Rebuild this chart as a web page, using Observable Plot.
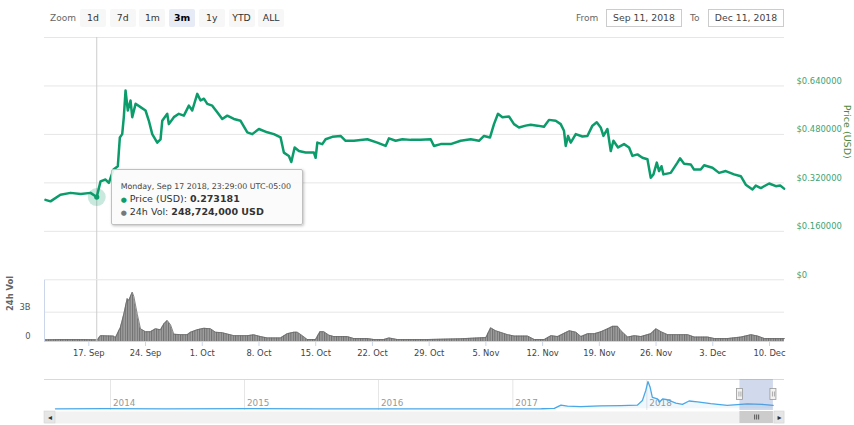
<!DOCTYPE html>
<html>
<head>
<meta charset="utf-8">
<script src="https://cdn.jsdelivr.net/npm/d3@7"></script>
<script src="https://cdn.jsdelivr.net/npm/@observablehq/plot@0.6"></script>
<style>
html,body{margin:0;padding:0;background:#fff;}
#root{position:relative;width:854px;height:425px;overflow:hidden;font-family:"DejaVu Sans",Verdana,sans-serif;}
#root svg{position:absolute;left:0;}
.lbl{position:absolute;font-size:9px;color:#666;line-height:18px;top:9px;}
.btn{position:absolute;top:9px;height:18px;width:26px;line-height:18px;text-align:center;font-size:9.3px;color:#333;background:#f7f7f7;border-radius:2px;}
.btn.sel{background:#e6ebf5;font-weight:bold;color:#000;}
.box{position:absolute;top:9px;height:16px;line-height:16px;border:1px solid #ccc;text-align:center;font-size:9.3px;color:#444;background:#fff;}
#tip{position:absolute;width:190px;height:54px;background:rgba(250,250,250,0.88);border:1px solid #c0c0c0;border-radius:2px;box-shadow:1px 1px 3px rgba(0,0,0,0.25);z-index:10;color:#333;}
#tip div{position:absolute;left:9px;white-space:nowrap;}
</style>
</head>
<body>
<div id="root"></div>
<script>
// ---------- data ----------
const priceTimes = ["2018-09-11T15:40","2018-09-12T06:30","2018-09-13T12:00","2018-09-14T18:00","2018-09-16T00:00","2018-09-17T05:00","2018-09-17T23:29","2018-09-18T10:40","2018-09-19T01:30","2018-09-19T11:20","2018-09-20T01:10","2018-09-20T13:55","2018-09-20T19:55","2018-09-21T02:55","2018-09-21T07:40","2018-09-21T12:45","2018-09-21T19:30","2018-09-22T03:30","2018-09-22T08:40","2018-09-22T18:30","2018-09-23T09:10","2018-09-24T00:00","2018-09-24T09:50","2018-09-24T19:50","2018-09-25T10:40","2018-09-25T20:25","2018-09-26T01:30","2018-09-26T16:20","2018-09-26T21:00","2018-09-27T11:50","2018-09-28T02:40","2018-09-28T17:30","2018-09-29T08:20","2018-09-29T18:20","2018-09-30T09:10","2018-09-30T19:00","2018-10-01T04:50","2018-10-01T14:50","2018-10-02T05:35","2018-10-02T20:25","2018-10-03T11:15","2018-10-04T02:05","2018-10-04T21:40","2018-10-05T17:30","2018-10-06T13:25","2018-10-07T04:10","2018-10-07T23:45","2018-10-09T00:30","2018-10-09T20:10","2018-10-10T16:00","2018-10-11T01:40","2018-10-11T16:35","2018-10-11T23:45","2018-10-12T09:35","2018-10-12T22:20","2018-10-13T18:00","2018-10-14T18:40","2018-10-14T23:45","2018-10-15T04:50","2018-10-15T19:30","2018-10-16T05:20","2018-10-17T01:10","2018-10-18T01:45","2018-10-18T16:35","2018-10-19T17:15","2018-10-21T08:55","2018-10-22T14:25","2018-10-23T15:05","2018-10-24T01:00","2018-10-24T20:40","2018-10-25T16:35","2018-10-26T17:15","2018-10-27T22:50","2018-10-29T04:30","2018-10-29T14:10","2018-10-30T10:05","2018-10-31T15:40","2018-11-01T21:20","2018-11-03T02:55","2018-11-04T03:35","2018-11-04T18:25","2018-11-05T12:15","2018-11-06T00:00","2018-11-06T11:50","2018-11-07T00:55","2018-11-07T20:25","2018-11-08T11:15","2018-11-09T02:05","2018-11-09T21:50","2018-11-10T12:45","2018-11-11T08:40","2018-11-12T04:05","2018-11-12T18:55","2018-11-13T14:50","2018-11-14T05:35","2018-11-14T15:20","2018-11-14T20:25","2018-11-15T03:20","2018-11-15T11:20","2018-11-16T02:10","2018-11-16T21:50","2018-11-17T12:40","2018-11-18T03:35","2018-11-18T16:20","2018-11-19T04:05","2018-11-19T12:10","2018-11-20T00:00","2018-11-20T09:50","2018-11-20T17:45","2018-11-21T07:25","2018-11-22T01:10","2018-11-22T16:05","2018-11-23T02:05","2018-11-23T16:50","2018-11-24T07:40","2018-11-24T22:30","2018-11-25T08:20","2018-11-25T16:20","2018-11-26T02:10","2018-11-26T08:55","2018-11-26T16:05","2018-11-26T21:50","2018-11-27T19:25","2018-11-28T15:20","2018-11-28T23:00","2018-11-29T11:00","2018-11-30T06:45","2018-11-30T16:35","2018-12-01T12:25","2018-12-01T22:20","2018-12-02T23:05","2018-12-03T18:40","2018-12-04T14:25","2018-12-05T15:05","2018-12-06T11:00","2018-12-07T01:40","2018-12-07T21:35","2018-12-08T07:25","2018-12-08T22:20","2018-12-09T23:00","2018-12-10T18:55","2018-12-11T07:40","2018-12-11T19:15"];
const priceValues = [0.264,0.259,0.281,0.287,0.283,0.287,0.273181,0.325,0.331,0.320,0.364,0.375,0.470,0.481,0.537,0.625,0.559,0.592,0.537,0.581,0.570,0.559,0.525,0.481,0.453,0.464,0.525,0.548,0.514,0.537,0.548,0.542,0.575,0.559,0.614,0.592,0.598,0.581,0.575,0.553,0.531,0.542,0.531,0.525,0.487,0.481,0.498,0.487,0.481,0.470,0.420,0.409,0.389,0.437,0.425,0.420,0.420,0.403,0.453,0.448,0.464,0.472,0.475,0.459,0.459,0.464,0.453,0.442,0.467,0.459,0.464,0.462,0.462,0.464,0.442,0.448,0.448,0.459,0.464,0.459,0.475,0.470,0.514,0.548,0.537,0.539,0.514,0.503,0.509,0.512,0.509,0.505,0.528,0.525,0.514,0.492,0.442,0.475,0.453,0.481,0.473,0.475,0.509,0.520,0.503,0.475,0.498,0.425,0.459,0.437,0.448,0.437,0.409,0.414,0.403,0.398,0.337,0.348,0.387,0.359,0.375,0.348,0.353,0.387,0.401,0.383,0.381,0.364,0.364,0.378,0.370,0.353,0.359,0.348,0.342,0.314,0.298,0.311,0.303,0.318,0.309,0.311,0.301];

const volTimes = ["2018-09-11T12:45","2018-09-13T12:10","2018-09-15T23:30","2018-09-18T01:40","2018-09-18T10:35","2018-09-20T01:10","2018-09-20T07:10","2018-09-20T21:50","2018-09-21T07:40","2018-09-21T17:45","2018-09-21T22:30","2018-09-22T08:40","2018-09-22T13:25","2018-09-22T23:30","2018-09-23T09:10","2018-09-24T00:00","2018-09-24T14:50","2018-09-25T05:35","2018-09-25T20:25","2018-09-26T06:15","2018-09-26T16:20","2018-09-27T02:10","2018-09-27T11:50","2018-09-28T07:40","2018-09-29T03:35","2018-09-29T13:25","2018-09-30T09:10","2018-10-01T04:50","2018-10-02T00:30","2018-10-02T15:20","2018-10-03T11:15","2018-10-04T21:40","2018-10-06T13:25","2018-10-07T08:55","2018-10-08T04:45","2018-10-09T00:30","2018-10-10T16:00","2018-10-11T11:50","2018-10-12T07:25","2018-10-12T17:30","2018-10-13T08:20","2018-10-13T23:05","2018-10-14T23:45","2018-10-15T12:30","2018-10-16T00:15","2018-10-16T15:05","2018-10-17T06:00","2018-10-18T21:35","2018-10-19T17:15","2018-10-21T08:55","2018-10-22T04:30","2018-10-23T10:05","2018-10-24T01:00","2018-10-25T01:40","2018-10-28T19:30","2018-11-01T22:15","2018-11-05T00:15","2018-11-05T14:10","2018-11-06T05:00","2018-11-07T16:35","2018-11-08T12:30","2018-11-10T03:50","2018-11-10T23:45","2018-11-12T05:20","2018-11-13T00:55","2018-11-13T20:40","2018-11-14T16:35","2018-11-15T07:25","2018-11-16T02:55","2018-11-16T17:45","2018-11-17T13:40","2018-11-18T09:35","2018-11-19T05:05","2018-11-20T00:55","2018-11-20T15:35","2018-11-21T06:30","2018-11-21T16:20","2018-11-22T12:10","2018-11-23T07:55","2018-11-24T03:35","2018-11-25T08:20","2018-11-26T00:00","2018-11-26T14:50","2018-11-27T10:35","2018-11-28T16:20","2018-11-29T21:50","2018-11-30T17:45","2018-12-02T09:10","2018-12-03T05:05","2018-12-04T20:25","2018-12-06T11:45","2018-12-07T17:30","2018-12-08T13:25","2018-12-09T09:10","2018-12-11T20:25"];
const volBillions = [0.17,0.2,0.2,0.17,0.6,0.55,0.4,1.46,2.8,4.4,4.2,5.05,4.6,2.8,1.3,1.0,1.0,1.3,1.2,1.8,2.15,1.7,0.75,0.7,0.7,0.95,1.2,1.35,1.3,0.95,0.9,0.6,0.6,0.68,0.5,0.37,0.37,0.8,0.95,0.95,0.6,0.2,0.2,1.0,1.0,0.65,0.5,0.5,0.3,0.3,0.2,0.2,0.37,0.2,0.2,0.28,0.4,1.4,1.1,0.7,0.55,0.55,0.2,0.2,0.6,0.5,0.85,1.1,0.95,0.5,0.8,0.8,1.0,1.3,1.55,1.55,1.1,0.45,0.6,0.5,0.8,1.3,1.0,0.7,0.7,0.7,0.45,0.45,0.3,0.3,0.45,0.7,0.55,0.3,0.3];

const navTimes = ["2013-08-04","2013-12-20","2014-06-01","2015-01-15","2015-08-01","2016-05-13","2017-01-01","2017-03-20","2017-04-24","2017-05-12","2017-05-30","2017-07-05","2017-08-28","2017-10-22","2017-12-06","2017-12-20","2017-12-29","2018-01-04","2018-01-10","2018-01-16","2018-01-30","2018-02-04","2018-02-13","2018-02-26","2018-03-21","2018-04-08","2018-04-26","2018-05-19","2018-06-24","2018-08-08","2018-09-14","2018-10-02","2018-11-10","2018-12-11"];
const navValues = [0.006,0.03,0.005,0.02,0.008,0.007,0.007,0.01,0.05,0.44,0.32,0.27,0.36,0.40,0.44,1.0,2.2,3.3,2.6,1.4,1.2,0.8,1.2,1.1,0.7,0.55,0.95,0.85,0.62,0.42,0.55,0.6,0.55,0.42];
const navYears = ["2014","2015","2016","2017","2018"];

const priceTicks = [0, 0.16, 0.32, 0.48, 0.64];
const priceGrid = [0, 0.16, 0.32, 0.48, 0.64, 0.8];
const volTicks = [0, 3];
const xTickDates = ["2018-09-17","2018-09-24","2018-10-01","2018-10-08","2018-10-15","2018-10-22","2018-10-29","2018-11-05","2018-11-12","2018-11-19","2018-11-26","2018-12-03","2018-12-10"];

const viewRange = ["2018-09-11T12:45","2018-12-11T20:25"];
const navRange = ["2013-07-05T05:00","2019-01-11T00:00"];

const zoomButtons = ["1d","7d","1m","3m","1y","YTD","ALL"];
const selectedButton = "3m";
const fromText = "Sep 11, 2018", toText = "Dec 11, 2018";

const tipTime = "2018-09-17T23:29:00", tipPrice = 0.273181, tipVol = 248724000;

// ---------- helpers ----------
const T = s => new Date((s.length === 10 ? s + "T00:00" : s) + "Z");
const LINE = "#0c9c6b";
const FONT = "DejaVu Sans, Verdana, sans-serif";
const root = document.getElementById("root");

const priceData = priceTimes.map((t, i) => ({t: T(t), v: priceValues[i]}));
const volData = volTimes.map((t, i) => ({t: T(t), v: volBillions[i]}));
const navData = navTimes.map((t, i) => ({t: T(t), v: navValues[i]}));
const xDomain = viewRange.map(T);
const navDomain = navRange.map(T);
const tip = {t: T(tipTime), v: tipPrice};
const sel = {a: xDomain[0], b: xDomain[1]};

// ---------- range selector (HTML) ----------
let html = `<div class="lbl" style="left:50px">Zoom</div>`;
zoomButtons.forEach((b, i) => {
  html += `<div class="btn${b === selectedButton ? " sel" : ""}" style="left:${80 + i * 29.7}px">${b}</div>`;
});
html += `<div class="lbl" style="left:576px">From</div>`;
html += `<div class="box" style="left:606px;width:74px">${fromText}</div>`;
html += `<div class="lbl" style="left:690px">To</div>`;
html += `<div class="box" style="left:708px;width:74px">${toText}</div>`;
root.insertAdjacentHTML("beforeend", html);

const baseStyle = {fontFamily: FONT, fontSize: "8.4px", background: "transparent", overflow: "visible"};

// ---------- price pane ----------
const pricePlot = Plot.plot({
  width: 854, height: 290,
  marginTop: 37, marginBottom: 10.7, marginLeft: 44, marginRight: 70,
  style: baseStyle,
  x: {type: "utc", domain: xDomain, axis: null},
  y: {domain: [0, 0.8]},
  marks: [
    Plot.ruleY(priceGrid, {stroke: "#e6e6e6", strokeWidth: 1}),
    Plot.ruleX([tip], {x: "t", stroke: "#cccccc"}),
    Plot.line(priceData, {x: "t", y: "v", stroke: LINE, strokeWidth: 2.5, strokeLinejoin: "round"}),
    Plot.dot([tip], {x: "t", y: "v", r: 9, fill: LINE, fillOpacity: 0.22, stroke: null}),
    Plot.dot([tip], {x: "t", y: "v", r: 2.6, fill: LINE, stroke: null}),
    Plot.axisY({ticks: priceTicks, anchor: "right", tickSize: 0, tickPadding: 12, dy: -5, label: null,
      tickFormat: d => d === 0 ? "$0" : "$" + d.toFixed(6), fill: "#3ba374"}),
    Plot.text(["Price (USD)"], {text: d => d, frameAnchor: "right", dx: 63, rotate: 90, fill: "#4f8a3b", fontSize: 9.5})
  ]
});
pricePlot.style.top = "0px";
root.appendChild(pricePlot);

// ---------- volume pane ----------
const volPlot = Plot.plot({
  width: 854, height: 100,
  marginTop: 10, marginBottom: 29, marginLeft: 44, marginRight: 70,
  style: baseStyle,
  x: {type: "utc", domain: xDomain},
  y: {domain: [0, 6.24]},
  marks: [
    Plot.ruleY([3], {stroke: "#e6e6e6"}),
    Plot.areaY(volData, {x: "t", y: "v", fill: "url(#volpat)"}),
    Plot.lineY(volData, {x: "t", y: "v", stroke: "#6a6a6a", strokeWidth: 0.8}),
    Plot.ruleX([tip], {x: "t", stroke: "#cccccc"}),
    Plot.ruleY([0], {stroke: "#ccd6eb"}),
    Plot.ruleX([xDomain[0]], {stroke: "#ccd6eb"}),
    Plot.axisY({ticks: volTicks, anchor: "left", tickSize: 0, tickPadding: 14, dy: -5, label: null,
      tickFormat: d => d === 0 ? "0" : d + "B", fill: "#555"}),
    Plot.axisX({ticks: xTickDates.map(T), tickSize: 5, tickPadding: 4, label: null,
      stroke: "#ccd6eb", fill: "#444", tickFormat: d3.utcFormat("%-d. %b")}),
    Plot.text(["24h Vol"], {text: d => d, frameAnchor: "left", dx: -34, rotate: -90, fontWeight: "bold", fill: "#666", fontSize: 8.4})
  ]
});
d3.select(volPlot).insert("defs", ":first-child").html(
  '<pattern id="volpat" width="2.4" height="10" patternUnits="userSpaceOnUse">' +
  '<rect width="2.4" height="10" fill="#a0a0a0"/><rect width="1" height="10" fill="#6e6e6e"/></pattern>');
volPlot.style.top = "270px";
root.appendChild(volPlot);

// ---------- navigator ----------
const navPlot = Plot.plot({
  width: 854, height: 55,
  marginTop: 9, marginBottom: 15, marginLeft: 44, marginRight: 70,
  style: baseStyle,
  x: {type: "utc", domain: navDomain, axis: null},
  y: {domain: [-0.2, 3.55], axis: null},
  marks: [
    Plot.ruleX(navYears, {x: d => T(d + "-01-01"), stroke: "#e6e6e6"}),
    Plot.text(navYears, {x: d => T(d + "-01-01"), text: d => d, frameAnchor: "bottom", dx: 2.5, dy: -5,
      textAnchor: "start", fill: "#999", fontSize: 8.8}),
    Plot.areaY(navData, {x: "t", y: "v", fill: "#4aa8e8", fillOpacity: 0.08}),
    Plot.lineY(navData, {x: "t", y: "v", stroke: "#4aa8e8", strokeWidth: 1.3}),
    Plot.ruleY([3.55], {stroke: "#d9d9d9"}),
    Plot.rect([sel], {x1: "a", x2: "b", fill: "rgb(102,133,194)", fillOpacity: 0.3}),
    Plot.rect([sel.a, sel.b], {x1: d => d, x2: d => d, insetLeft: -3, insetRight: -3, insetTop: 9.5, insetBottom: 10.5,
      fill: "#f2f2f2", stroke: "#999", strokeWidth: 0.8}),
    Plot.ruleX([sel.a, sel.b], {x: d => d, dx: -1, insetTop: 12.5, insetBottom: 13.5, stroke: "#999", strokeWidth: 0.8}),
    Plot.ruleX([sel.a, sel.b], {x: d => d, dx: 1, insetTop: 12.5, insetBottom: 13.5, stroke: "#999", strokeWidth: 0.8})
  ]
});
navPlot.style.top = "370px";
root.appendChild(navPlot);

// ---------- scrollbar ----------
const mid = new Date((sel.a.getTime() + sel.b.getTime()) / 2);
const scrollPlot = Plot.plot({
  width: 854, height: 12,
  marginTop: 0, marginBottom: 0, marginLeft: 44, marginRight: 70,
  style: baseStyle,
  x: {type: "utc", domain: navDomain, axis: null},
  y: {domain: [0, 1], axis: null},
  marks: [
    Plot.frame({fill: "#f2f2f2", stroke: null}),
    Plot.rect([sel], {x1: "a", x2: "b", fill: "#cccccc"}),
    Plot.rect([navDomain[0]], {x1: d => d, x2: d => d, insetRight: -11, fill: "#e6e6e6", stroke: "#d0d0d0", strokeWidth: 0.5}),
    Plot.rect([navDomain[1]], {x1: d => d, x2: d => d, insetLeft: -10, fill: "#e6e6e6", stroke: "#d0d0d0", strokeWidth: 0.5}),
    Plot.text([navDomain[0]], {x: d => d, text: () => "◂", dx: 5.5, frameAnchor: "middle", fill: "#333", fontSize: 8}),
    Plot.text([navDomain[1]], {x: d => d, text: () => "▸", dx: -5, frameAnchor: "middle", fill: "#333", fontSize: 8}),
    ...[-2, 0, 2].map(o => Plot.ruleX([mid], {x: d => d, dx: o, insetTop: 3.5, insetBottom: 3.5, stroke: "#333", strokeWidth: 0.8}))
  ]
});
scrollPlot.style.top = "410.5px";
root.appendChild(scrollPlot);

// ---------- tooltip ----------
const px = pricePlot.scale("x").apply(tip.t);
const py = pricePlot.scale("y").apply(tip.v);
const tipDiv = document.createElement("div");
tipDiv.id = "tip";
tipDiv.style.left = (px + 14.4) + "px";
tipDiv.style.top = (py - 27.7) + "px";
const dateStr = d3.utcFormat("%A, %b %d %Y, %H:%M:%S")(tip.t) + " UTC-05:00";
tipDiv.innerHTML =
  `<div style="top:12.5px;font-size:7.9px;color:#444">${dateStr}</div>` +
  `<div style="top:23.5px;font-size:9.5px"><span style="color:${LINE};font-size:7px">●</span> Price (USD): <b>${tipPrice.toFixed(6)}</b></div>` +
  `<div style="top:36px;font-size:9.5px"><span style="color:#777;font-size:7px">●</span> 24h Vol: <b>${d3.format(",")(tipVol)} USD</b></div>`;
root.appendChild(tipDiv);
</script>
</body>
</html>
